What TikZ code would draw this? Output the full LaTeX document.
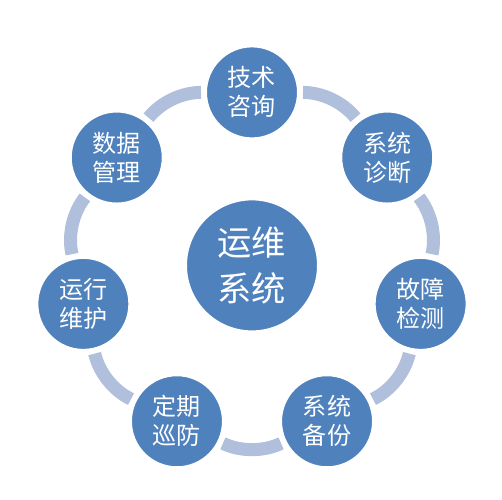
\documentclass[tikz,border=0pt]{standalone}
\usepackage{fontspec}
\newfontfamily\cjk{Noto Sans CJK SC}
\usetikzlibrary{arrows}
\definecolor{nodeblue}{RGB}{79,129,189}
\definecolor{ringblue}{RGB}{176,191,219}

\begin{document}
\begin{tikzpicture}[
            bend left = 25.7, % ring arc between neighbours
            looseness = 0.9, % keep the arc close to a circle
            semithick % line style
        ]
        \useasboundingbox (-5.04,-4.692) rectangle (5.0,5.308);

        \tikzstyle{item}=[
            circle,
            fill = nodeblue,
            draw = white,
            line width = 0.06cm,
            minimum size = 1.86cm,
            inner sep = 0pt,
            text = white,
            align = center,
            font = \cjk\fontsize{13.7}{16.5}\selectfont
        ]
        \tikzstyle{hub}=[
            item,
            minimum size = 2.66cm,
            font = \cjk\fontsize{19.5}{26}\selectfont
        ]
        \tikzstyle{ring}=[
            draw = ringblue,
            line width = 0.26cm,
            shorten > = 0.06cm,
            shorten < = 0.06cm
        ]

        \node[hub] (hub) at (0,0) {运维\\系统};

        \node[item] (zx) at (90:3.46) {技术\\咨询};
        \node[item] (zd) at (38.57:3.46) {系统\\诊断};
        \node[item] (jc) at (-12.86:3.46) {故障\\检测};
        \node[item] (bf) at (-64.29:3.46) {系统\\备份};
        \node[item] (xf) at (-115.71:3.46) {定期\\巡防};
        \node[item] (wh) at (-167.14:3.46) {运行\\维护};
        \node[item] (gl) at (141.43:3.46) {数据\\管理};

	\path[ring] (zx) edge[bend left] (zd);
	\path[ring] (zd) edge[bend left] (jc);
	\path[ring] (jc) edge[bend left] (bf);
	\path[ring] (bf) edge[bend left] (xf);
	\path[ring] (xf) edge[bend left] (wh);
	\path[ring] (wh) edge[bend left] (gl);
	\path[ring] (gl) edge[bend left] (zx);

    \end{tikzpicture}
\end{document}
